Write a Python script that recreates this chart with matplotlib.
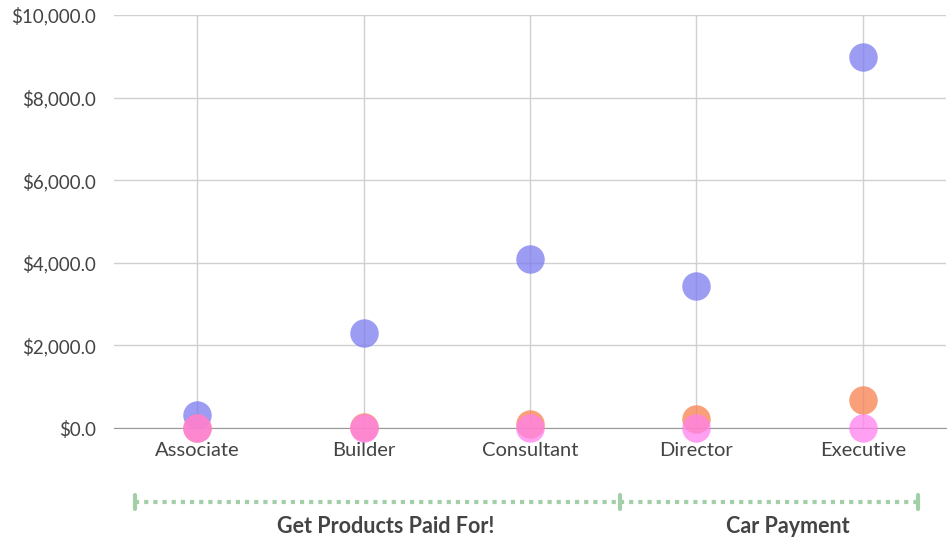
import matplotlib
matplotlib.use('Agg')
import matplotlib.pyplot as plt
from matplotlib.ticker import FuncFormatter

plt.rcParams['font.family'] = ['Lato', 'DejaVu Sans']

# Chart data
categories = ['Associate', 'Builder', 'Consultant', 'Director', 'Executive']
series_blue = [310, 2300, 4100, 3440, 8990]
series_orange = [0, 30, 100, 220, 680]
series_pink = [0, 0, 0, 0, 0]

group_labels = ['Get Products Paid For!', 'Car Payment']

TEXT = '#444444'
GREEN = '#a3cfa8'

fig = plt.figure(figsize=(9.53, 5.39), dpi=100)
ax = fig.add_axes([114 / 953, 1 - 428 / 539, 832 / 953, 413 / 539])

x = list(range(len(categories)))
ax.scatter(x, series_blue, s=420, color='#7b7bf0', alpha=0.75, linewidths=0, clip_on=False, zorder=3)
ax.scatter(x, series_orange, s=420, color='#f7814f', alpha=0.75, linewidths=0, clip_on=False, zorder=4)
ax.scatter(x, series_pink, s=420, color='#ff80ee', alpha=0.75, linewidths=0, clip_on=False, zorder=5)

ax.set_xlim(-0.5, len(categories) - 0.5)
ax.set_ylim(0, 10000)
ax.set_yticks(range(0, 10001, 2000))
ax.yaxis.set_major_formatter(FuncFormatter(lambda v, p: f'${v:,.1f}'))
ax.set_xticks(x)
ax.set_xticklabels(categories)

ax.grid(True, color='#d0d0d0', linewidth=1)
ax.set_axisbelow(True)
for s in ['top', 'right', 'left']:
    ax.spines[s].set_visible(False)
ax.spines['bottom'].set_color('#999999')
ax.tick_params(length=0, colors=TEXT)
ax.tick_params(axis='x', labelsize=14.5, pad=10)
ax.tick_params(axis='y', labelsize=13.5, pad=13)

# group brackets under the axis
edges = [0.025, 0.608, 0.966]
label_x = [0.326, 0.81]
by = -0.18
for i in range(len(group_labels)):
    ax.plot([edges[i], edges[i + 1]], [by, by], transform=ax.transAxes, clip_on=False,
            color=GREEN, linewidth=3, linestyle=(0, (1, 1.2)), dash_capstyle='butt')
    ax.text(label_x[i], by - 0.058, group_labels[i], transform=ax.transAxes,
            ha='center', va='center', fontsize=15.5, fontweight='bold', color=TEXT)
for e in edges:
    ax.plot([e, e], [by - 0.017, by + 0.017], transform=ax.transAxes, clip_on=False,
            color=GREEN, linewidth=3, solid_capstyle='round')

fig.savefig('out.png', dpi=100)
